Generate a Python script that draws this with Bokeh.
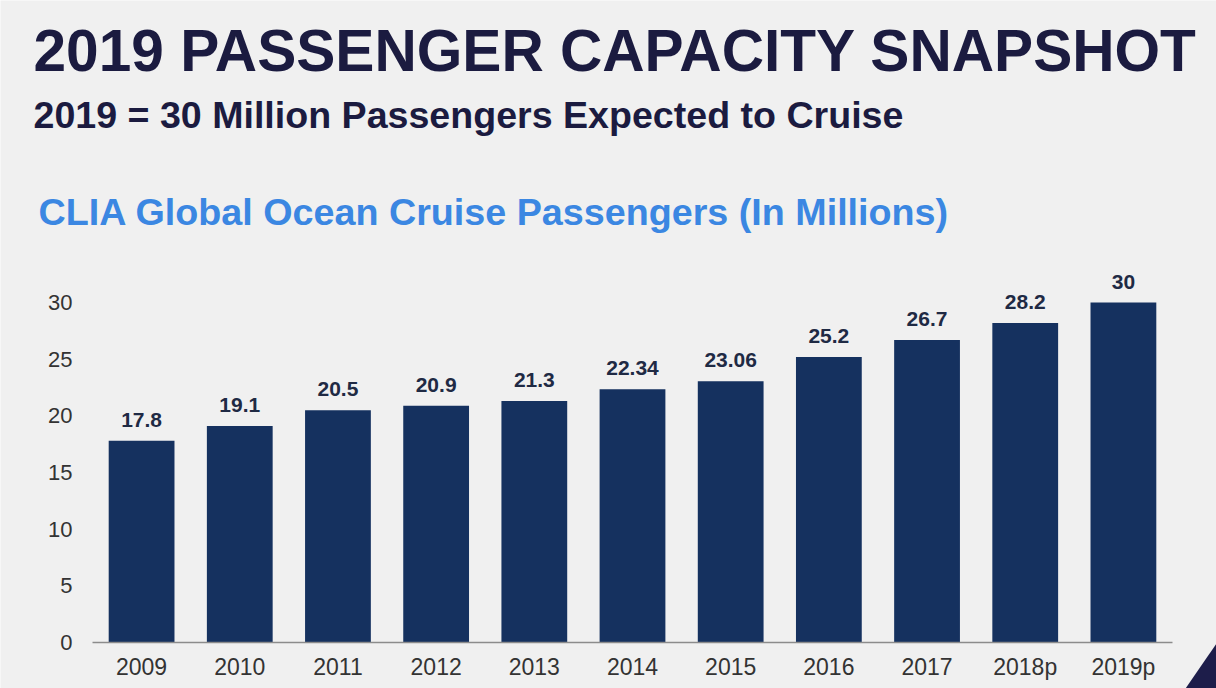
from bokeh.plotting import figure
from bokeh.models import (ColumnDataSource, Range1d, FixedTicker, LabelSet, Label, PolyAnnotation)
from bokeh.core.properties import value
from bokeh.embed import file_html
from bokeh.resources import INLINE

# ---- data ----
years = ["2009", "2010", "2011", "2012", "2013", "2014", "2015", "2016", "2017", "2018p", "2019p"]
passengers = [17.8, 19.1, 20.5, 20.9, 21.3, 22.34, 23.06, 25.2, 26.7, 28.2, 30]
value_labels = ["17.8", "19.1", "20.5", "20.9", "21.3", "22.34", "23.06", "25.2", "26.7", "28.2", "30"]
y_ticks = [0, 5, 10, 15, 20, 25, 30]

title_text = "2019 PASSENGER CAPACITY SNAPSHOT"
subtitle_text = "2019 = 30 Million Passengers Expected to Cruise"
chart_title_text = "CLIA Global Ocean Cruise Passengers (In Millions)"

# ---- styles / layout (pixels) ----
BG = "#f0f0f0"
NAVY = "#1b1b40"
BAR = "#15315f"
BLUE = "#3b87e2"
FONT = "Liberation Sans"

W, H = 1216, 688
PLOT_LEFT, PLOT_RIGHT = 92, 1172     # x extent of the value-axis baseline
BASE_Y, TOP30_Y = 642, 302           # pixel rows of 0 and 30

n = len(years)
idx = list(range(n))
px_cat = (PLOT_RIGHT - PLOT_LEFT) / n
px_unit = (BASE_Y - TOP30_Y) / 30.0
x_start = -0.5 - PLOT_LEFT / px_cat
x_end = -0.5 + (W - PLOT_LEFT) / px_cat
y_start = -(H - BASE_Y) / px_unit
y_end = BASE_Y / px_unit

src = ColumnDataSource(dict(x=idx, value=passengers, label=value_labels))

p = figure(width=W, height=H, x_range=Range1d(x_start, x_end), y_range=Range1d(y_start, y_end),
           output_backend="svg", toolbar_location=None, min_border=0)
p.background_fill_color = BG
p.border_fill_color = BG
p.outline_line_color = None
p.grid.grid_line_color = None

p.vbar(x="x", top="value", width=0.67, source=src, fill_color=BAR, line_color=None)

p.add_layout(LabelSet(x="x", y="value", text="label", source=src,
                      text_align="center", text_baseline="alphabetic", y_offset=14,
                      text_font=value(FONT), text_font_size="21px", text_font_style="bold",
                      text_color="#1f2a44"))

# value axis (drawn at the left edge of the first bar slot)
p.yaxis.fixed_location = -0.5
p.yaxis.ticker = FixedTicker(ticks=y_ticks)
p.yaxis.axis_line_color = None
p.yaxis.major_tick_line_color = None
p.yaxis.minor_tick_line_color = None
p.yaxis.major_tick_out = 0
p.yaxis.minor_tick_out = 0
p.yaxis.major_label_standoff = 20
p.yaxis.major_label_text_font = FONT
p.yaxis.major_label_text_font_size = "22px"
p.yaxis.major_label_text_color = "#333333"

# category axis (drawn at value 0)
p.xaxis.fixed_location = 0
p.xaxis.bounds = (-0.5, n - 0.5)
p.xaxis.ticker = FixedTicker(ticks=idx)
p.xaxis.major_label_overrides = {i: y for i, y in zip(idx, years)}
p.xaxis.axis_line_color = "#8c8c8c"
p.xaxis.axis_line_width = 1.5
p.xaxis.major_tick_line_color = None
p.xaxis.minor_tick_line_color = None
p.xaxis.major_tick_out = 0
p.xaxis.minor_tick_out = 0
p.xaxis.major_label_standoff = 11
p.xaxis.major_label_text_font = FONT
p.xaxis.major_label_text_font_size = "23px"
p.xaxis.major_label_text_color = "#333333"

# headings
for txt, x, base, size, color in [(title_text, 33, 72, 58.6, NAVY),
                                  (subtitle_text, 33, 128, 37.6, NAVY),
                                  (chart_title_text, 38, 225, 37.7, BLUE)]:
    p.add_layout(Label(x=x, y=H - base + 0.37 * size, x_units="screen", y_units="screen",
                       text=txt, text_font=FONT, text_font_size=f"{size}px",
                       text_font_style="bold", text_color=color, text_baseline="alphabetic"))

# corner triangle
p.add_layout(PolyAnnotation(xs=[1185, W, W], ys=[0, 45, 0], xs_units="screen", ys_units="screen",
                            fill_color="#1d1d4a", fill_alpha=1, line_color=None))

open("out.html", "w").write(file_html(p, INLINE))
